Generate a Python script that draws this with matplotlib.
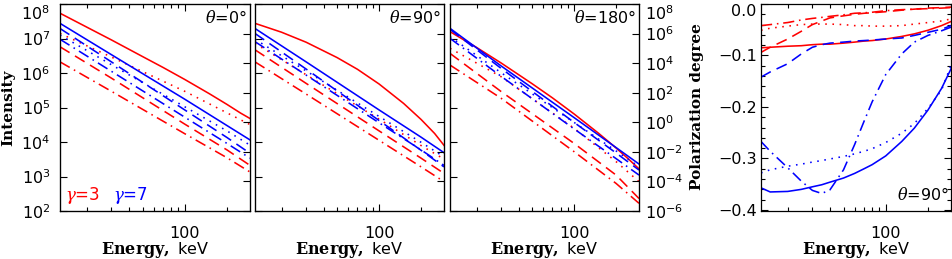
import matplotlib
matplotlib.use("Agg")
import matplotlib.pyplot as plt
from matplotlib.ticker import FixedLocator, FixedFormatter, NullFormatter, NullLocator, MultipleLocator

plt.rcParams["font.family"] = ["DejaVu Sans"]
plt.rcParams["mathtext.fontset"] = "custom"
plt.rcParams["mathtext.rm"] = "DejaVu Sans"
plt.rcParams["mathtext.it"] = "DejaVu Serif:italic"
plt.rcParams["mathtext.bf"] = "DejaVu Serif:bold"

# energies (keV) where the intensity curves were read
energy = [12.9, 30, 100, 200, 292]
# finer grid for the bent solid red curves
energy_fine = [12.9, 20, 30, 50, 70, 100, 150, 200, 250, 292]

# theta = 0 deg
t0_red_solid = [5.4e7, 2.14e7, 9.1e6, 3.0e6, 1.45e6, 6.5e5, 2.5e5, 1.23e5, 6.9e4, 4.8e4]
t0_red_dotted = [1.4e7, 2.9e6, 2.95e5, 7.0e4, 3.2e4]
t0_red_dashed = [5.75e6, 7.1e5, 3.3e4, 5.9e3, 2.1e3]
t0_red_dashdot = [2.1e6, 2.95e5, 1.74e4, 3.5e3, 1.35e3]
t0_blue_solid = [2.75e7, 3.4e6, 1.74e5, 3.0e4, 1.15e4]
t0_blue_dotted = [1.26e7, 1.74e6, 1.05e5, 2.1e4, 8.1e3]
t0_blue_dashed = [1.95e7, 2.1e6, 8.5e4, 1.35e4, 4.7e3]
t0_blue_dashdot = [9.5e6, 1.12e6, 5.25e4, 9.1e3, 3.4e3]

# theta = 90 deg
t90_red_solid = [2.75e7, 1.52e7, 7.8e6, 2.8e6, 1.28e6, 4.8e5, 1.31e5, 4.5e4, 1.77e4, 8.0e3]
t90_red_dotted = [7.2e6, 8.9e5, 4.6e4, 7.9e3, 3.2e3]
t90_red_dashed = [4.7e6, 5.0e5, 2.1e4, 3.4e3, 1.23e3]
t90_red_dashdot = [2.1e6, 2.45e5, 1.12e4, 1.9e3, 7.1e2]
t90_blue_solid = [1.95e7, 2.1e6, 8.5e4, 1.38e4, 4.9e3]
t90_blue_dotted = [9.5e6, 1.15e6, 5.5e4, 9.8e3, 3.7e3]
t90_blue_dashed = [1.4e7, 1.3e6, 4.2e4, 5.75e3, 1.9e3]
t90_blue_dashdot = [8.1e6, 8.7e5, 3.6e4, 5.9e3, 2.1e3]

# theta = 180 deg
t180_red_solid = [1.58e7, 5.5e6, 1.95e6, 4.9e5, 1.9e5, 6.5e4, 1.78e4, 6.7e3, 3.0e3, 1.66e3]
t180_red_dotted = [5.2e6, 7.8e5, 2.5e4, 2.7e3, 7.1e2]
t180_red_dashed = [3.7e6, 2.9e5, 9.1e3, 1.1e3, 2.3e2]
t180_red_dashdot = [1.7e6, 1.85e5, 5.25e3, 6.3e2, 1.67e2]
t180_blue_solid = [1.97e7, 1.6e6, 5.1e4, 6.9e3, 2.3e3]
t180_blue_dotted = [1.13e7, 1.02e6, 3.7e4, 5.5e3, 1.93e3]
t180_blue_dashed = [1.85e7, 1.36e6, 3.7e4, 4.8e3, 1.54e3]
t180_blue_dashdot = [1.01e7, 8.0e5, 2.4e4, 3.3e3, 1.1e3]

# polarization degree, theta = 90 deg
energy_pol = [12.9, 15, 20, 25, 30, 35, 40, 50, 60, 70, 80, 100, 130, 160, 200, 250, 292]
pol_red_solid = [-0.085, -0.084, -0.082, -0.081, -0.079, -0.078, -0.078, -0.076, -0.074,
                 -0.072, -0.071, -0.068, -0.063, -0.058, -0.051, -0.042, -0.034]
pol_red_dotted = [-0.051, -0.047, -0.043, -0.040, -0.039, -0.039, -0.039, -0.040, -0.042,
                  -0.042, -0.043, -0.043, -0.042, -0.039, -0.036, -0.033, -0.029]
pol_red_dashed = [-0.094, -0.084, -0.068, -0.053, -0.040, -0.033, -0.027, -0.023, -0.020,
                  -0.018, -0.017, -0.015, -0.012, -0.010, -0.008, -0.007, -0.006]
pol_red_dashdot = [-0.042, -0.040, -0.036, -0.031, -0.028, -0.026, -0.024, -0.021, -0.018,
                   -0.017, -0.016, -0.013, -0.011, -0.010, -0.009, -0.008, -0.007]
pol_blue_solid = [-0.357, -0.365, -0.364, -0.360, -0.355, -0.351, -0.346, -0.338, -0.329,
                  -0.320, -0.312, -0.295, -0.267, -0.241, -0.206, -0.164, -0.126]
pol_blue_dotted = [-0.328, -0.322, -0.315, -0.311, -0.307, -0.304, -0.301, -0.296, -0.291,
                   -0.286, -0.281, -0.269, -0.251, -0.232, -0.203, -0.167, -0.119]
pol_blue_dashed = [-0.142, -0.132, -0.116, -0.097, -0.084, -0.079, -0.076, -0.074, -0.072,
                   -0.071, -0.070, -0.068, -0.066, -0.061, -0.055, -0.049, -0.042]
pol_blue_dashdot = [-0.267, -0.286, -0.318, -0.344, -0.362, -0.368, -0.361, -0.322, -0.273,
                    -0.228, -0.190, -0.137, -0.097, -0.074, -0.061, -0.052, -0.045]

panels = [
    ("0", [t0_red_solid, t0_red_dotted, t0_red_dashed, t0_red_dashdot],
     [t0_blue_solid, t0_blue_dotted, t0_blue_dashed, t0_blue_dashdot]),
    ("90", [t90_red_solid, t90_red_dotted, t90_red_dashed, t90_red_dashdot],
     [t90_blue_solid, t90_blue_dotted, t90_blue_dashed, t90_blue_dashdot]),
    ("180", [t180_red_solid, t180_red_dotted, t180_red_dashed, t180_red_dashdot],
     [t180_blue_solid, t180_blue_dotted, t180_blue_dashed, t180_blue_dashdot]),
]

styles = ["-", (0, (1, 3.5)), (0, (7, 4)), (0, (7, 3, 1, 3))]
LW = 1.15
W, H = 952, 259
FS = 11.5

fig = plt.figure(figsize=(W / 100, H / 100), dpi=100)


def px_axes(x0, x1, y0=4, y1=211):
    return fig.add_axes([x0 / W, (H - y1) / H, (x1 - x0) / W, (y1 - y0) / H])


def energy_axis(ax):
    ax.set_xscale("log")
    ax.set_xlim(12.9, 292)
    ax.xaxis.set_major_locator(FixedLocator([100]))
    ax.xaxis.set_major_formatter(FixedFormatter(["100"]))
    ax.xaxis.set_minor_locator(FixedLocator([20, 30, 40, 50, 60, 70, 80, 90, 200]))
    ax.xaxis.set_minor_formatter(NullFormatter())
    ax.tick_params(axis="x", which="both", direction="in", top=True, labelsize=FS, pad=10.5)
    ax.tick_params(axis="x", which="major", length=5, width=0.8)
    ax.tick_params(axis="x", which="minor", length=3, width=0.8)
    for s in ax.spines.values():
        s.set_linewidth(0.9)


edges = [(60, 250), (255, 444), (450, 639)]
left_ticks = [1e2, 1e3, 1e4, 1e5, 1e6, 1e7, 1e8]
left_labels = [r"$10^{%d}$" % k for k in range(2, 9)]
right_ticks = [1e-6, 1e-4, 1e-2, 1e0, 1e2, 1e4, 1e6, 1e8]
right_labels = [r"$10^{-6}$", r"$10^{-4}$", r"$10^{-2}$", r"$10^{0}$",
                r"$10^{2}$", r"$10^{4}$", r"$10^{6}$", r"$10^{8}$"]

axes = []
for i, (theta, reds, blues) in enumerate(panels):
    ax = px_axes(*edges[i])
    for k, (vals, ls) in enumerate(zip(reds, styles)):
        ax.plot(energy_fine if k == 0 else energy, vals, color="red", lw=LW, ls=ls)
    for vals, ls in zip(blues, styles):
        ax.plot(energy, vals, color="blue", lw=LW, ls=ls)
    energy_axis(ax)
    ax.set_yscale("log")
    ax.set_ylim(1e2, 1e8)
    ax.set_yticks(left_ticks, left_labels if i == 0 else [""] * 7)
    ax.yaxis.set_minor_locator(NullLocator())
    ax.tick_params(axis="y", direction="in", length=5, width=0.8, labelsize=FS, pad=7)
    if i == 0:
        ax.yaxis.get_major_ticks()[-1].label1.set_va("top")

    tw = ax.twinx()
    tw.set_yscale("log")
    tw.set_ylim(1e-6, 1e8)
    tw.set_yticks(right_ticks, right_labels if i == 2 else [""] * 8)
    tw.yaxis.set_minor_locator(NullLocator())
    tw.tick_params(axis="y", direction="in", length=5, width=0.8, labelsize=FS, pad=4)
    if i == 2:
        tw.yaxis.get_major_ticks()[-1].label2.set_va("top")

    ax.text(1 - 3 / 190, 1 - 13 / 207, r"$\theta$=%s°" % theta, ha="right", va="center",
            fontsize=FS, transform=ax.transAxes)
    axes.append(ax)

axes[0].text(5 / 190, 16 / 207, r"$\gamma$=3", color="red", fontsize=12,
             ha="left", va="center", transform=axes[0].transAxes)
axes[0].text(53 / 190, 16 / 207, r"$\gamma$=7", color="blue", fontsize=12,
             ha="left", va="center", transform=axes[0].transAxes)

# polarization panel
ax4 = px_axes(761, 951)
pol_reds = [pol_red_solid, pol_red_dotted, pol_red_dashed, pol_red_dashdot]
pol_blues = [pol_blue_solid, pol_blue_dotted, pol_blue_dashed, pol_blue_dashdot]
for vals, ls in zip(pol_reds, styles):
    ax4.plot(energy_pol, vals, color="red", lw=LW, ls=ls)
for vals, ls in zip(pol_blues, styles):
    ax4.plot(energy_pol, vals, color="blue", lw=LW, ls=ls)
energy_axis(ax4)
ax4.set_ylim(-0.402, 0.0)
ax4.set_yticks([-0.4, -0.3, -0.2, -0.1, 0.0], ["\u22120.4", "\u22120.3", "\u22120.2", "\u22120.1", "0.0"])
ax4.yaxis.set_minor_locator(MultipleLocator(0.02))
ax4.tick_params(axis="y", which="both", direction="in", right=True, labelsize=FS, pad=3, width=0.8)
ax4.tick_params(axis="y", which="major", length=5)
ax4.tick_params(axis="y", which="minor", length=3)
ax4.yaxis.get_major_ticks()[-1].label1.set_va("top")
ax4.text(1 - 2 / 190, 16 / 207, r"$\theta$=90°", ha="right", va="center",
         fontsize=FS, transform=ax4.transAxes)

# axis titles
lab = dict(family="DejaVu Serif", weight="bold", fontsize=11, rotation=90, ha="center", va="center")
fig.text(8 / W, 1 - 107.5 / H, "Intensity", **lab)
fig.text(697 / W, 1 - 107 / H, "Polarization degree", **lab)
for xc in [155, 349.5, 544.5, 856]:
    fig.text(xc / W, (H - 254) / H, r"$\mathbf{Energy,}$ keV", ha="center", va="baseline", fontsize=FS)

fig.savefig("out.png", dpi=100)
